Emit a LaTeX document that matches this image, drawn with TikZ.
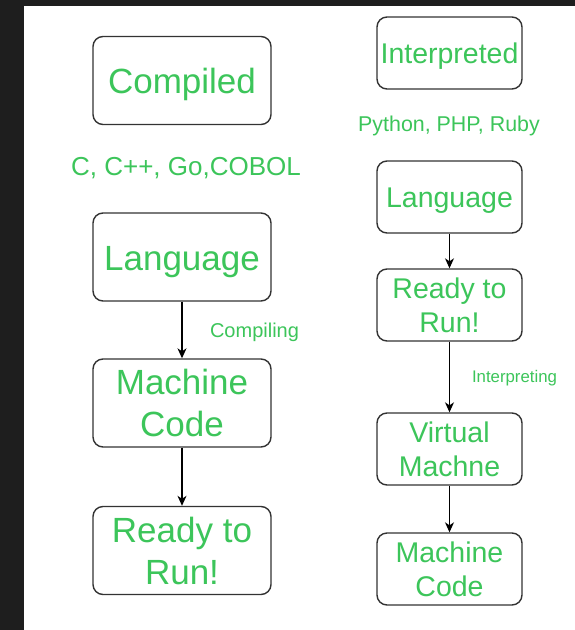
\documentclass[tikz,border=0pt]{standalone}
\usepackage{fontspec}
\setmainfont{Liberation Sans}
\usetikzlibrary{arrows.meta}
\definecolor{grn}{HTML}{3CC55A}
\definecolor{bd}{HTML}{333333}
\definecolor{darkbg}{HTML}{1E1E1E}
\tikzset{
  bigbox/.style={draw=bd, line width=1.4pt, rounded corners=10pt, minimum width=178pt, minimum height=88pt, inner sep=0pt, text=grn, font=\fontsize{35}{42}\selectfont, align=center},
  smallbox/.style={draw=bd, line width=1.4pt, rounded corners=10pt, minimum width=145pt, minimum height=72pt, inner sep=0pt, text=grn, font=\fontsize{28.5}{34}\selectfont, align=center},
  bigone/.style={bigbox, text height=30pt, text depth=4pt},
  smallone/.style={smallbox, text height=24pt, text depth=4pt},
  lbl/.style={text=grn, inner sep=0pt},
  flow/.style={draw=black, line width=1.3pt, -{Stealth[length=10pt,width=9pt,inset=3pt]}}
}
\begin{document}
\begin{tikzpicture}[x=1pt,y=-1pt]
\fill[darkbg] (0,0) rectangle (575,630);
\fill[white] (24,6) rectangle (575,630);
\useasboundingbox (0,0) rectangle (575,630);
% left column
\node[bigone] (comp) at (182,80.5) {Compiled};
\node[lbl, font=\fontsize{26}{30}\selectfont] (clang) at (186,168) {C, C++, Go,COBOL};
\node[bigone] (llang) at (182,257) {Language};
\node[bigbox] (lmc) at (182,403) {Machine\\Code};
\node[bigbox] (lrun) at (182,550.5) {Ready to\\Run!};
\node[lbl, font=\fontsize{20}{24}\selectfont] (compiling) at (254.5,332) {Compiling};
\draw[flow] (llang) -- (lmc);
\draw[flow] (lmc) -- (lrun);
% right column
\node[smallone] (interp) at (449.5,53) {Interpreted};
\node[lbl, font=\fontsize{21.4}{25}\selectfont] (ilang) at (449,126) {Python, PHP, Ruby};
\node[smallone] (rlang) at (449.5,197) {Language};
\node[smallbox] (rrun) at (449.5,305) {Ready to\\Run!};
\node[smallbox] (rvm) at (449.5,449) {Virtual\\Machne};
\node[smallbox] (rmc) at (449.5,569) {Machine\\Code};
\node[lbl, font=\fontsize{16.8}{20}\selectfont] (interpreting) at (514.5,378) {Interpreting};
\draw[flow] (rlang) -- (rrun);
\draw[flow] (rrun) -- (rvm);
\draw[flow] (rvm) -- (rmc);
\end{tikzpicture}
\end{document}
